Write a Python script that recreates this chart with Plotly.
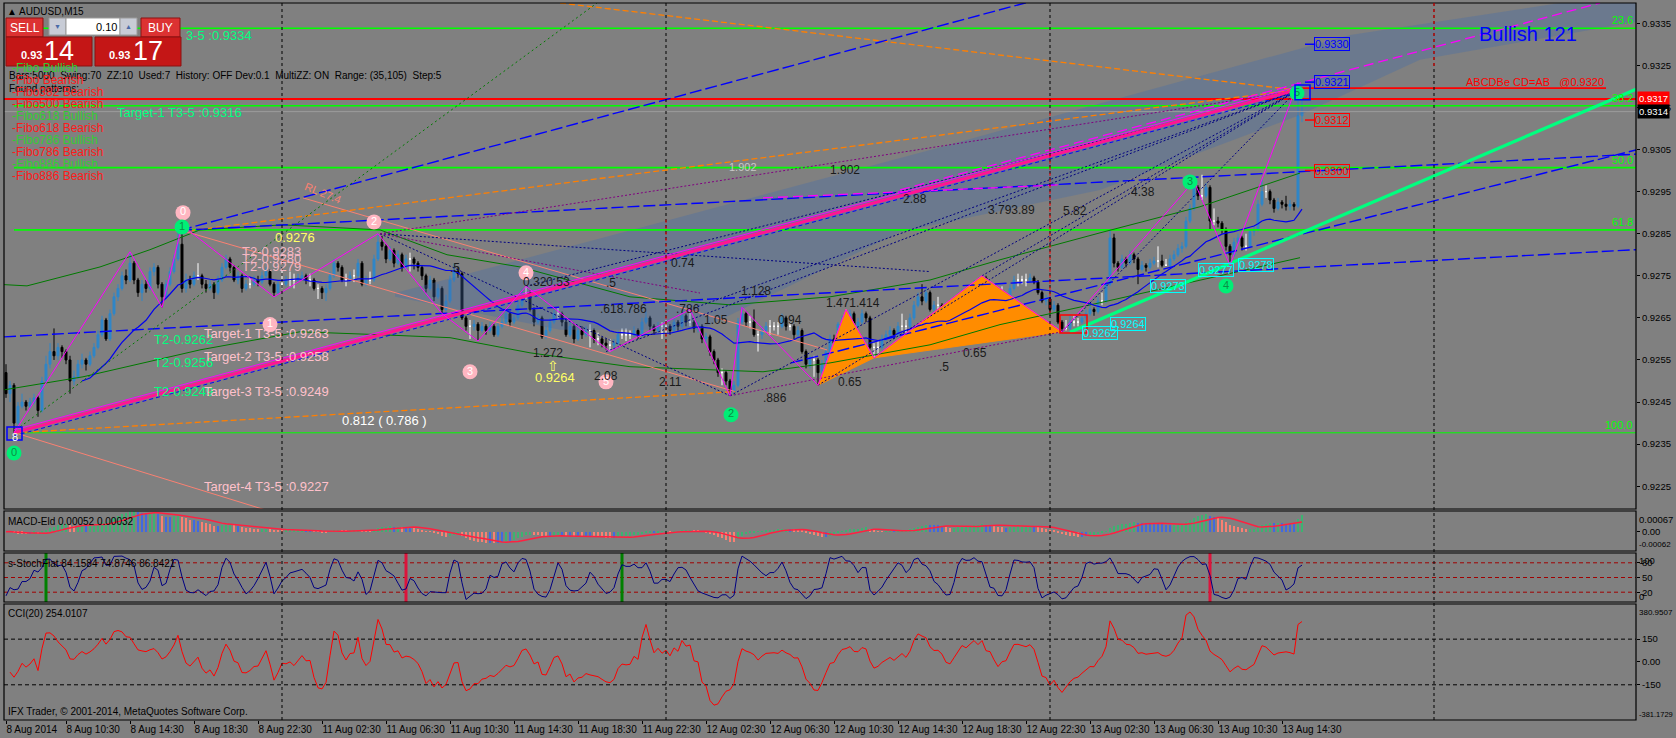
import numpy as np
import pandas as pd
import plotly.graph_objects as go

# AUDUSD M15, 8 Aug 2014 06:45 .. 13 Aug 2014 15:45, one value per bar.
# prices are given in pips above BASE
BASE = 0.92

first_open = 52
closes = [
    47, 49, 40, 44, 45, 44, 45, 46, 43, 50,
    54, 57, 56, 58, 57, 55, 50, 51, 54, 55,
    54, 56, 58, 61, 64.5, 60, 66, 70, 72, 75,
    74, 78, 74, 71, 73, 72, 76, 77, 73, 70,
    73, 76, 79, 82.5, 72, 74, 73, 75, 75, 73,
    72, 73, 71, 74, 77, 79, 77, 74, 75, 72,
    73, 73, 74, 73.5, 75, 76, 73, 71, 73, 73,
    74, 74, 74, 74.5, 75, 74, 74, 72, 72, 71,
    72, 75, 78, 77, 74, 74, 75, 75, 78, 73,
    74, 74, 79, 83, 82, 79, 81, 78, 80, 77,
    79, 79, 78, 77, 75, 72, 74, 70, 72, 67,
    69, 74, 76, 75.5, 65, 63, 63, 63.5, 62, 63,
    62, 63, 61, 63, 64, 66, 64, 65, 68, 71,
    71, 67, 64, 65, 60.5, 62, 64, 66, 66, 64,
    61, 63, 60, 62, 61, 62, 62, 60, 60, 59,
    58.5, 58.5, 59, 61, 61, 61, 61, 62, 61, 64,
    65, 63, 62, 63, 63, 63, 62, 64, 63, 65.5,
    64, 64, 62.5, 63, 60, 60.5, 57, 55, 52, 52,
    50, 47.5, 49, 64, 66, 64, 64, 61, 61, 62,
    63, 63, 63, 63, 65, 63, 63, 61, 62, 57,
    54, 55, 55, 52, 54, 57, 60, 59, 63.5, 64,
    64, 66, 63, 64, 66, 65, 58, 58, 58, 60,
    61, 62, 61, 63, 63, 63, 65, 68, 70, 69,
    71, 67, 68, 68, 67, 63, 64, 67, 69, 71,
    70, 72, 73, 72, 74.5, 70, 72, 69, 68, 68,
    70, 72, 74, 74, 74, 74, 74.5, 73.5, 71, 69,
    69.5, 67, 68, 64, 62.5, 62.5, 64, 64, 64, 65,
    66, 67, 66.5, 69, 69, 73, 84, 78, 77, 79,
    78, 80, 79, 76.5, 77.5, 77, 78, 78.5, 78.5, 77.5,
    77.5, 79, 80, 81.5, 82, 88, 91, 96, 94, 94,
    96, 88, 88, 87.5, 86, 82, 80, 83, 84, 82,
    82, 85.5, 86, 92, 95, 95, 93, 91, 92.5, 92,
    91.5, 92, 91.5, 113, 114,
]
highs = [
    54, 50, 49.5, 45, 47, 45.5, 46, 47, 46.5, 51,
    56, 59, 62.5, 59, 58.5, 57.5, 56, 52.5, 55, 56.5,
    55.5, 57, 59, 62, 65.5, 65, 67, 71, 73, 76,
    76.5, 80.7, 78.5, 74.5, 74, 74, 77, 78, 77.5, 73.5,
    74, 77, 80, 86, 87, 75.5, 75, 76, 78, 75.5,
    74, 74, 73.5, 75, 78, 80, 79.5, 77.5, 76, 75.5,
    74, 74.5, 75, 75, 76, 77, 76.5, 73.5, 74, 76.5,
    75, 76, 75.5, 75.5, 76, 75.5, 75.5, 74.5, 73, 72.5,
    73, 76, 79, 78.5, 77.5, 75.5, 76, 76.5, 79, 78.5,
    75, 76, 80, 85, 84.5, 82.5, 82, 81.5, 81, 80.5,
    80, 80.5, 79.5, 78.5, 77.5, 75.5, 75, 74.5, 73, 72.5,
    70.5, 75, 78, 77, 76, 65.5, 64.5, 64.5, 64, 64,
    63.5, 64, 63.5, 64, 65, 67, 66.5, 66, 69, 72,
    72.5, 71.5, 67.5, 66, 65.5, 63, 65, 67, 67.5, 66.5,
    64.5, 64, 63.5, 63, 63, 63, 63.5, 62.5, 61.5, 60.5,
    60, 60, 60, 62, 62.5, 62.5, 62, 63, 62.5, 65,
    66.5, 65.5, 63.5, 64, 64, 64.5, 63.5, 65, 64.5, 67,
    66, 67, 64.5, 64, 63.5, 61.5, 61, 57.5, 55.5, 53,
    52.5, 50.5, 50, 65, 67.5, 66.5, 65.5, 67, 62, 63,
    64, 64.5, 64, 64, 66, 65.5, 64, 63.5, 63, 62.5,
    57.5, 56, 56, 55.5, 55, 58, 61, 61, 64, 65.5,
    67, 67, 66.5, 65, 67, 66.5, 65.5, 59, 59.5, 61,
    62, 63, 62.5, 64, 66, 64.5, 66, 69, 71, 73,
    72, 71.5, 69, 70, 68.5, 67.5, 65, 68, 70, 72,
    71.5, 73, 74, 73.5, 75, 75, 73, 72.5, 70, 72.5,
    71, 73, 75, 75.5, 75, 75.5, 75.5, 75, 74, 71.5,
    70.5, 70, 69, 68.5, 64.5, 64.5, 65.5, 65.5, 65, 66,
    67, 68, 67.5, 70, 71, 74, 86, 85, 78.5, 80,
    79.5, 81, 80.5, 79.5, 78.5, 78, 79, 79.5, 82, 80,
    79, 80, 81, 82.5, 83, 89, 92, 97.5, 96.5, 99,
    97, 96.5, 91, 89, 88, 86.5, 82.5, 84, 85, 84.5,
    85, 86, 87, 93, 97.8, 96.5, 95.5, 93.5, 93.5, 93,
    94, 93, 92.5, 121, 119,
]
lows = [
    46, 45, 37.7, 39.5, 43.5, 43, 43.5, 44.5, 41.5, 42.5,
    49.5, 53, 55, 55, 55.5, 54, 47, 49, 50.5, 53,
    52.5, 53.5, 55.5, 57.5, 60.5, 59.5, 59.5, 65.5, 69, 71.5,
    73, 73.5, 73, 70, 69, 71, 71.5, 75, 72, 67.5,
    69.5, 72.5, 75.5, 78.5, 71, 71, 72, 72.5, 74, 72,
    71, 71.5, 69.5, 70.5, 73.5, 76.5, 76, 73.5, 73, 71,
    71.5, 72, 72.5, 72.5, 73, 74.5, 72.5, 70, 70.5, 72,
    72.5, 72.5, 72, 73.5, 74, 73, 72.5, 71.5, 69.5, 69.5,
    69, 71.5, 74.5, 76, 73.5, 72.5, 73.5, 73.5, 74.5, 72.5,
    72.5, 73, 73.5, 78.5, 81, 78, 78.5, 77, 77.5, 76,
    76.5, 76, 76.5, 76, 74, 71, 71.5, 69, 69.5, 66,
    66.5, 68.5, 73.5, 74.5, 64.5, 62, 60, 62, 59.5, 61.5,
    61, 61.5, 60.5, 60.5, 62.5, 63.5, 63, 63.5, 64.5, 67.5,
    69.5, 66.5, 63, 63.5, 60, 60, 61.5, 63.5, 64.5, 63,
    60.5, 60.5, 59, 59.5, 60, 60.5, 58, 59, 58.5, 58,
    57.5, 57, 57.5, 58.5, 60, 59.5, 60, 60.5, 60, 60.5,
    63.5, 62, 61, 61.5, 60, 61, 61, 61.5, 62, 62.5,
    63, 63, 61.5, 61.5, 59, 59, 56, 54, 51, 49,
    49, 46.5, 47, 48.5, 63, 63, 62.5, 60.5, 57, 60,
    61.5, 61, 62, 61, 62.5, 62, 62, 60, 60.5, 56.5,
    53, 53, 51, 49, 51, 53.5, 56.5, 58, 58.5, 62.5,
    62.5, 63.5, 62, 62.5, 63.5, 64, 57.5, 55.5, 56.5, 57.5,
    59.5, 60.5, 60, 60.5, 62, 61.5, 62.5, 64.5, 67.5, 68,
    68.5, 66.5, 66, 66.5, 65.5, 62, 62.5, 63.5, 66.5, 68.5,
    69, 69.5, 71.5, 71, 71.5, 69.5, 69.5, 68, 67, 67.5,
    67.5, 69.5, 71.5, 72.5, 73, 72.5, 73.5, 73, 70.5, 68.5,
    68, 65.5, 66.5, 63.5, 61.7, 62, 62, 63, 63, 63.5,
    64.5, 65.5, 65.5, 66, 68, 68.5, 72.5, 77, 76, 76.5,
    77, 77.5, 78, 73, 76, 76, 76.5, 77.5, 77, 77,
    77.5, 77, 78.5, 79.5, 80.5, 81.5, 87.5, 90.5, 93, 93,
    93.5, 86, 87, 86.5, 85, 81, 77.5, 79.5, 82.5, 81,
    81, 81.5, 84.5, 85.5, 91.5, 93.5, 92, 90, 90.5, 91,
    90.5, 90.5, 90.5, 91, 111.5,
]
assert len(closes) == len(highs) == len(lows) == 325

tick_bars = [0, 15, 31, 47, 63, 79, 95, 111, 127, 143, 159,
             175, 191, 207, 223, 239, 255, 271, 287, 303, 319]
tick_text = ['8 Aug 2014', '8 Aug 10:30', '8 Aug 14:30', '8 Aug 18:30', '8 Aug 22:30',
             '11 Aug 02:30', '11 Aug 06:30', '11 Aug 10:30', '11 Aug 14:30', '11 Aug 18:30',
             '11 Aug 22:30', '12 Aug 02:30', '12 Aug 06:30', '12 Aug 10:30', '12 Aug 14:30',
             '12 Aug 18:30', '12 Aug 22:30', '13 Aug 02:30', '13 Aug 06:30', '13 Aug 10:30',
             '13 Aug 14:30']
day_sep_bars = [69, 165, 261, 357]
price_ticks = [0.9225, 0.9235, 0.9245, 0.9255, 0.9265, 0.9275,
               0.9285, 0.9295, 0.9305, 0.9315, 0.9325, 0.9335]

fib_levels = [0.93338, 0.93154, 0.93007, 0.92859, 0.92377]
fib_labels = ['23.6', '38.2', '50.0', '61.8', '100.0']
bid, ask = 114, 117

# objects on the chart: bar index, pips
band_bars = [97.25, 173.5, 231, 336, 388.5, 407.5, 407.5, 353.5, 323.5, 273.5, 223.5, 173.5, 138.5, 97.25]
band_pips = [70.9, 90.2, 104.9, 132.2, 139.8, 139.8, 135.3, 126.3, 113.2, 95.4, 85.4, 62.2, 62.2, 70.0]
tri1 = ([203, 210, 217, 203], [49, 67, 55.5, 49])
tri2 = ([217, 244, 264, 217], [55.5, 75, 61.7, 55.5])

bb_up = ([-0.5, 5.25, 23.5, 36, 48.5, 69.25, 93.5, 110.25, 128.5, 156, 181, 206, 231, 248.5, 273.5, 298.5, 323.5],
         [72.9, 72.6, 77.1, 81.2, 85.9, 87.1, 85.9, 80.0, 77.1, 70.0, 68.1, 70.0, 74.0, 78.8, 85.2, 91.4, 99.4])
bb_dn = ([-0.5, 19.25, 48.5, 73.5, 93.5, 111, 131, 156, 189.25, 206, 231, 248.5, 273.5, 298.5, 323.5],
         [47.9, 51.0, 57.4, 61.7, 61.0, 60.3, 56.7, 53.4, 52.2, 54.3, 58.6, 63.4, 68.6, 74.0, 79.3])

pink_trend = ([2, 322], [37.7, 119])
green_trend = ([266, 407.5], [61.6, 119.3])
blue_dashed = [([43.5, 257.5], [85.8, 140.5]), ([43.5, 407.5], [85.8, 103.9]),
               ([196.25, 407.5], [54.3, 104.9]), ([-0.5, 407.5], [60.5, 81.2])]
orange_dashed = [([138.5, 322.75], [139.8, 119.1]), ([43.5, 321.75], [85.4, 119.1]),
                 ([2.25, 182.25], [37.7, 47.5])]
salmon_lines = [([74.25, 205.25], [93.5, 57.4]), ([45.25, 182.25], [85.4, 47.5]),
                ([2.25, 66.5], [37.7, 18.9])]
green_dotted = ([3.5, 147.75], [39.1, 139.8])
magenta_dashed = [([223.5, 398.5], [95.4, 139.8]), ([189.25, 263.5], [93.5, 96.6])]
fan_apex = (322.75, 119)
fan_from = [(130, 72.5), (171, 67), (181, 46.5), (203, 49), (244, 75), (264, 61.7), (150, 57)]
navy_dotted = [([93.5, 181], [85, 46.5]), ([93.5, 231], [85, 76])]
purple_dotted = [([93.5, 322.75], [85, 119]), ([93.5, 173.5], [85, 70.9]), ([181, 264], [46.5, 61.7])]
zz_bars = [2, 31, 39, 44, 67, 93, 109, 118, 130, 151, 171, 181, 184, 203, 210, 217, 244, 264, 297, 306, 323]
zz_pips = [37.7, 80.7, 67.5, 87, 70, 85, 66, 59.5, 72.5, 57, 67, 46.5, 67.5, 49, 67, 55.5, 75, 61.7, 97.5, 77.5, 121]
abcd_line = ([321.75, 400], [119.6, 119.6])

pink_pts = ([44.25, 66, 92, 116, 130, 150], [90.0, 63.4, 87.8, 52.2, 75.7, 49.8], ['0', '1', '2', '3', '4', '5'])
green_pts = ([2, 44, 181.25, 296, 305, 322.75], [32.9, 86.6, 42.0, 97.3, 72.6, 118.4], ['0', '1', '2', '3', '4', '5'])

cyan_labels = [(269, 61.4, '0.9262'), (276, 63.6, '0.9264'), (286, 72.6, '0.9273'),
               (298, 76.4, '0.9277'), (308, 77.6, '0.9278')]
right_labels = [(130, '0.9330', '#0000ff'), (121, '0.9321', '#0000ff'),
                (112, '0.9312', '#ff0000'), (100, '0.9300', '#ff0000')]
ratio_labels = [(209.75, 100.2, '1.902'), (227.25, 93.3, '2.88'), (169.25, 78.1, '0.74'),
                (187.5, 71.4, '1.128'), (211.75, 68.6, '1.471.414'), (154.25, 67.2, '.618.786'),
                (170.5, 67.2, '.786'), (177.5, 64.5, '1.05'), (196, 64.5, '0.94'),
                (135.5, 56.7, '1.272'), (150, 51.3, '2.08'), (166, 49.8, '2.11'),
                (192.25, 46.0, '.886'), (211, 49.8, '0.65'), (242.25, 56.7, '0.65'),
                (234.5, 53.4, '.5'), (135, 73.5, '0.320.53'), (151.25, 73.3, '.5'),
                (112.25, 76.9, '.5'), (251.25, 90.6, '3.793.89'), (267.25, 90.4, '5.82'),
                (284.25, 94.9, '4.38')]
target_labels = [(44.5, 132.0, '3-5 :0.9334', '#00ff7f'), (27.25, 113.7, 'Target-1 T3-5 :0.9316', '#00ff7f'),
                 (66.75, 84.0, '0.9276', '#ffff66'), (58.5, 80.7, 'T2-0.9283', '#f4b6c2'),
                 (58.5, 79.0, 'T2-0.9280', '#f4b6c2'), (58.5, 77.1, 'T2-0.9279', '#f4b6c2'),
                 (36.5, 59.8, 'T2-0.9262', '#00ff7f'), (36.5, 54.3, 'T2-0.9256', '#00ff7f'),
                 (36.5, 47.4, 'T2-0.9249', '#00ff7f'), (49, 61.4, 'Target-1 T3-5 :0.9263', '#ffc0cb'),
                 (49, 55.8, 'Target-2 T3-5 :0.9258', '#ffc0cb'), (49, 47.4, 'Target-3 T3-5 :0.9249', '#ffc0cb'),
                 (49, 24.9, 'Target-4 T3-5 :0.9227', '#ffc0cb'), (131.75, 50.8, '0.9264', '#ffff66'),
                 (83.5, 40.6, '0.812 ( 0.786 )', '#ffffff')]
fibo_list = [('-Fibo Bullish', '#33cc33'), ('-Fibo Bearish', '#ff1a1a'), ('-Fibo382 Bearish', '#ff1a1a'),
             ('-Fibo500 Bearish', '#ff1a1a'), ('-Fibo618 Bullish', '#33cc33'), ('-Fibo618 Bearish', '#ff1a1a'),
             ('-Fibo786 Bullish', '#33cc33'), ('-Fibo786 Bearish', '#ff1a1a'), ('-Fibo886 Bullish', '#33cc33'),
             ('-Fibo886 Bearish', '#ff1a1a')]
stoch_marks = [(10, '#008000'), (100, '#dc143c'), (154, '#008000'), (301, '#dc143c')]


def P(v):
    return BASE + np.asarray(v, dtype=float) / 10000


opens = [first_open] + closes[:-1]
o, hi, lo, c = P(opens), P(highs), P(lows), P(closes)
bars = np.arange(len(closes))
doji = np.isclose(o, c)

# indicators from the candles
cl = pd.Series(c)
ema12 = cl.ewm(span=12, adjust=False).mean()
ema26 = cl.ewm(span=26, adjust=False).mean()
macd = ema12 - ema26
signal = macd.rolling(9, min_periods=1).mean()
ema13 = cl.ewm(span=13, adjust=False).mean()
m_up = (macd.diff() > 0).values
e_up = (ema13.diff() > 0).values
macd_col = np.where(m_up & e_up, '#3cb371', np.where(~m_up & ~e_up, '#fa8072', '#4169e1'))

hh = pd.Series(hi).rolling(6, min_periods=1).max()
ll = pd.Series(lo).rolling(6, min_periods=1).min()
stoch = 100 * (cl - ll).rolling(2, min_periods=1).sum() / (hh - ll).rolling(2, min_periods=1).sum()

tp = (pd.Series(hi) + pd.Series(lo) + cl) / 3
tp_ma = tp.rolling(20, min_periods=2).mean()
tp_md = tp.rolling(20, min_periods=2).apply(lambda x: np.mean(np.abs(x - x.mean())), raw=True)
cci = (tp - tp_ma) / (0.015 * tp_md)
sma20 = cl.rolling(20).mean()

W, H = 1676, 738
ML, MR, MT, MB = 4, 40, 3, 18


def px(x):
    return (x - ML) / (W - ML - MR)


def py(y):
    return (H - MB - y) / (H - MT - MB)


fig = go.Figure()


def line(b, p, color, width=1.0, dash=None):
    fig.add_trace(go.Scatter(x=b, y=P(p), mode='lines', hoverinfo='skip', showlegend=False,
                             line=dict(color=color, width=width, dash=dash)))


# background objects
fig.add_trace(go.Scatter(x=band_bars, y=P(band_pips), fill='toself', mode='none',
                         fillcolor='rgba(70,110,170,0.35)', hoverinfo='skip', showlegend=False))
for tb, tpp in (tri1, tri2):
    fig.add_trace(go.Scatter(x=tb, y=P(tpp), fill='toself', mode='lines', line=dict(color='#ff8c00', width=1),
                             fillcolor='#ff8c00', hoverinfo='skip', showlegend=False))

# candles
m = ~doji
fig.add_trace(go.Candlestick(x=bars[m], open=o[m], high=hi[m], low=lo[m], close=c[m],
                             increasing=dict(line=dict(color='#2f86c8', width=1), fillcolor='#2f86c8'),
                             decreasing=dict(line=dict(color='#000000', width=1), fillcolor='#000000'),
                             hoverinfo='skip', showlegend=False))
fig.add_trace(go.Candlestick(x=bars[doji], open=o[doji], high=hi[doji], low=lo[doji], close=c[doji],
                             increasing=dict(line=dict(color='#ffffff', width=1), fillcolor='#ffffff'),
                             decreasing=dict(line=dict(color='#ffffff', width=1), fillcolor='#ffffff'),
                             hoverinfo='skip', showlegend=False))

# horizontal levels
for lv in fib_levels:
    fig.add_trace(go.Scatter(x=[2, 407.5], y=[lv, lv], mode='lines', hoverinfo='skip', showlegend=False,
                             line=dict(color='#00ff00', width=1.6 if lv != fib_levels[-1] else 1)))
line([-0.5, 407.5], [bid, bid], '#9c9c9c', 1)
line([-0.5, 407.5], [ask, ask], '#ff0000', 1.8)
line(*abcd_line, '#ff0000', 1.8)

# indicator curves on price
line(*bb_up, '#007a00', 1)
line(*bb_dn, '#007a00', 1)
fig.add_trace(go.Scatter(x=bars, y=sma20, mode='lines', hoverinfo='skip', showlegend=False,
                         line=dict(color='#0000ee', width=1.2)))

# drawn lines
for b, p in salmon_lines:
    line(b, p, '#fa8072', 1)
for b, p in orange_dashed:
    line(b, p, '#ff7f00', 1.3, '6px,3px')
for b, p in blue_dashed:
    line(b, p, '#0000ff', 1.4, '12px,4px')
line(*green_dotted, '#007a00', 1, '2px,3px')
for b, p in navy_dotted:
    line(b, p, '#000080', 1, '2px,2px')
for b, p in purple_dotted:
    line(b, p, '#800080', 1, '2px,2px')
for fb, fp in fan_from:
    line([fb, fan_apex[0]], [fp, fan_apex[1]], '#000080', 1, '2px,2px')
for b, p in magenta_dashed:
    line(b, p, '#ff00ff', 1.3, '10px,5px')
line(pink_trend[0], [v - 0.7 for v in pink_trend[1]], '#0000ff', 1, '4px,3px')
line(*pink_trend, '#ff1493', 3.2)
line(pink_trend[0], [v + 0.7 for v in pink_trend[1]], '#ff00ff', 1)
line(*green_trend, '#00ff7f', 3.2)
line(zz_bars, zz_pips, '#ff00ff', 1)

# right-hand price labels with stubs
for p, t, col in right_labels:
    line([324.75, 327], [p, p], col, 1.5)

# numbered circles
for pts, fill, tcol in ((pink_pts, '#ffb6c1', '#ffffff'), (green_pts, '#00ee76', '#0a8f45')):
    fig.add_trace(go.Scatter(x=pts[0], y=P(pts[1]), mode='markers+text', text=pts[2],
                             textposition='middle center', textfont=dict(size=11, color=tcol),
                             marker=dict(size=15, color=fill), hoverinfo='skip', showlegend=False))

# ---- indicator panels
fig.add_trace(go.Bar(x=bars, y=macd, marker=dict(color=macd_col, line=dict(width=0)), width=0.3,
                     yaxis='y2', hoverinfo='skip', showlegend=False))
fig.add_trace(go.Scatter(x=bars, y=signal, yaxis='y2', mode='lines', line=dict(color='#ff2040', width=1.5),
                         hoverinfo='skip', showlegend=False))
for lvl in (20, 50, 80):
    fig.add_trace(go.Scatter(x=[-0.5, 407.5], y=[lvl, lvl], yaxis='y3', mode='lines', hoverinfo='skip',
                             showlegend=False, line=dict(color='#a00000', width=1, dash='4px,3px')))
for b, col in stoch_marks:
    fig.add_trace(go.Scatter(x=[b, b], y=[0, 100], yaxis='y3', mode='lines', hoverinfo='skip',
                             showlegend=False, line=dict(color=col, width=3)))
fig.add_trace(go.Scatter(x=bars, y=stoch, yaxis='y3', mode='lines', line=dict(color='#000080', width=1),
                         hoverinfo='skip', showlegend=False))
for lvl in (150, -150):
    fig.add_trace(go.Scatter(x=[-0.5, 407.5], y=[lvl, lvl], yaxis='y4', mode='lines', hoverinfo='skip',
                             showlegend=False, line=dict(color='#000000', width=1, dash='4px,3px')))
fig.add_trace(go.Scatter(x=bars, y=cci, yaxis='y4', mode='lines', line=dict(color='#ff0000', width=1),
                         hoverinfo='skip', showlegend=False))

# ---- layout
panels = {'main': (3, 509), 'macd': (511, 551), 'stoch': (553, 602), 'cci': (604, 720)}
dom = {k: [py(b), py(t)] for k, (t, b) in panels.items()}
axis_common = dict(side='right', showgrid=False, zeroline=False, ticks='outside', ticklen=3,
                   tickcolor='black', tickfont=dict(size=9.5, color='black'), anchor='x',
                   fixedrange=True, showline=False, ticklabeloverflow='allow')
fig.update_layout(
    width=W, height=H, margin=dict(l=ML, r=MR, t=MT, b=MB, autoexpand=False),
    paper_bgcolor='#808080', plot_bgcolor='#808080',
    font=dict(family='Liberation Sans', size=10, color='black'),
    showlegend=False, bargap=0,
    xaxis=dict(range=[-0.5, 407.5], showgrid=False, zeroline=False, rangeslider=dict(visible=False),
               tickvals=tick_bars, ticktext=tick_text, ticks='outside', ticklen=3, tickcolor='black',
               tickangle=0, ticklabelposition='outside right', ticklabeloverflow='allow',
               tickfont=dict(size=10, color='black'), anchor='y4', fixedrange=True),
    yaxis=dict(domain=dom['main'], range=[0.92196, 0.93398], tickvals=price_ticks, tickformat='.4f',
               **axis_common),
    yaxis2=dict(domain=dom['macd'], range=[-0.00062, 0.00067], tickvals=[0], ticktext=['0.00'], **axis_common),
    yaxis3=dict(domain=dom['stoch'], range=[0, 100], tickvals=[20, 50, 80], ticktext=['20', '50', '80'],
                **axis_common),
    yaxis4=dict(domain=dom['cci'], range=[-381.1729, 380.9507], tickvals=[-150, 0, 150],
                ticktext=['-150', '0.00', '150'], **axis_common),
)

shapes = []
for t, b in panels.values():
    shapes.append(dict(type='rect', xref='paper', yref='paper', x0=0, x1=1, y0=py(b), y1=py(t),
                       line=dict(color='black', width=1.2)))
for b in day_sep_bars:
    shapes.append(dict(type='line', xref='x', yref='paper', x0=b, x1=b, y0=0, y1=1,
                       line=dict(color='black', width=1, dash='3px,3px')))
for b, p0, p1 in ((165, 88.3, 48.6), (261, 113.7, 66.2), (357, 139.8, 124.6)):
    shapes.append(dict(type='line', xref='x', yref='y', x0=b, x1=b, y0=float(P(p0)), y1=float(P(p1)),
                       line=dict(color='#ff0000', width=1, dash='3px,3px')))
for b0, b1, p0, p1, col in ((0.25, 4, 36.0, 39.1, '#0000ff'), (322.25, 326, 116.8, 120.3, '#0000ff'),
                            (263.5, 270.25, 61.4, 65.7, '#ff0000')):
    shapes.append(dict(type='rect', xref='x', yref='y', x0=b0, x1=b1, y0=float(P(p0)), y1=float(P(p1)),
                       line=dict(color=col, width=1.5)))

# one-click trading panel
for x0, x1, y0, y1, fill, edge in ((6, 43, 18, 37, '#dc3232', '#8b1010'), (49, 66, 18, 35, '#c8ccd6', '#9a9a9a'),
                                   (66, 120, 18, 35, '#ffffff', '#9a9a9a'), (120, 137, 18, 35, '#c8ccd6', '#9a9a9a'),
                                   (141, 180, 18, 37, '#dc3232', '#8b1010'), (6, 92, 37, 66, '#c41616', '#8b1010'),
                                   (95, 181, 37, 66, '#c41616', '#8b1010')):
    shapes.append(dict(type='rect', xref='paper', yref='paper', x0=px(x0), x1=px(x1), y0=py(y1), y1=py(y0),
                       fillcolor=fill, line=dict(color=edge, width=1)))
fig.update_layout(shapes=shapes)


def screen_text(x, y, text, color='black', size=10, anchor='left', **kw):
    fig.add_annotation(xref='paper', yref='paper', x=px(x), y=py(y), text=text, showarrow=False,
                       xanchor=anchor, yanchor='middle', font=dict(color=color, size=size), **kw)


def chart_text(b, p, text, color, size=12, anchor='center', **kw):
    fig.add_annotation(xref='x', yref='y', x=b, y=float(P(p)), text=text, showarrow=False,
                       xanchor=anchor, yanchor='middle', font=dict(color=color, size=size), **kw)


screen_text(5, 11, '▲ AUDUSD,M15', size=10)
screen_text(24.5, 28, 'SELL', 'white', 12, 'center')
screen_text(160.5, 28, 'BUY', 'white', 12, 'center')
screen_text(57.5, 26, '▼', '#4a6aa8', 7, 'center')
screen_text(128.5, 26, '▲', '#4a6aa8', 7, 'center')
screen_text(119, 27, '0.10', 'black', 11, 'right')
screen_text(19, 55, '<b>0.93</b>', 'white', 11)
screen_text(42, 51, '14', 'white', 27)
screen_text(107, 55, '<b>0.93</b>', 'white', 11)
screen_text(131, 51, '17', 'white', 27)
screen_text(7, 76, 'Bars:5000  Swing:70  ZZ:10  Used:7  History: OFF Dev:0.1  MultiZZ: ON  Range: (35,105)  Step:5')
screen_text(7, 88, 'Found patterns:')
for i, (t, col) in enumerate(fibo_list):
    screen_text(10, 68 + 12 * i, t, col, 12)
screen_text(6, 521, 'MACD-Eld 0.00052 0.00032')
screen_text(6, 563, 's-StochFlat 84.1584 74.8746 86.8421')
screen_text(6, 613, 'CCI(20) 254.0107')
screen_text(6, 711, 'IFX Trader, © 2001-2014, MetaQuotes Software Corp.')

# inset extreme labels of the indicator scales (long ones a touch smaller so they fit)
for ya, val, txt, shift, fs in (('y2', 0.00067, '0.00067', -8, 9.5), ('y2', -0.00062, '-0.00062', 7, 8),
                                ('y3', 100, '100', -7, 9.5), ('y3', 0, '0', 6, 9.5),
                                ('y4', 380.9507, '380.9507', -8, 8), ('y4', -381.1729, '-381.1729', 6, 7.5)):
    fig.add_annotation(xref='paper', yref=ya, x=1, y=val, text=txt, showarrow=False, xanchor='left',
                       xshift=1, yshift=shift, font=dict(size=fs, color='black'))

# price tags on the axis
for p, txt, bg in ((ask, '0.9317', '#ff0000'), (bid, '0.9314', '#000000')):
    fig.add_annotation(xref='paper', yref='y', x=1, y=float(P(p)), text=txt, showarrow=False, xanchor='left',
                       xshift=1, bgcolor=bg, borderpad=1, font=dict(size=9.5, color='white'))

for lv, t in zip(fib_levels, fib_labels):
    fig.add_annotation(xref='x', yref='y', x=407.25, y=lv, text=t, showarrow=False, xanchor='right',
                       yanchor='bottom', font=dict(size=11, color='#00ff00'))

for b, p, t, col in target_labels:
    chart_text(b, p, t, col, 13, 'left')
chart_text(136.75, 53.6, '⇧', '#ffff66', 14)
chart_text(79.25, 94.7, 'RL 27.4', '#fa8072', 11, textangle=22)
chart_text(184.25, 100.9, '1.902', '#c8c8c8', 11)
for b, p, t in ratio_labels:
    chart_text(b, p, t, '#1a1a1a', 12)
chart_text(400, 121.0, 'ABCDBe CD=AB   @0.9320', '#ff0000', 11, 'right')
chart_text(380.5, 132.5, 'Bullish 121', '#0000ff', 20)
for b, p, t in cyan_labels:
    chart_text(b, p, t, '#00ffff', 11, 'left', bordercolor='#00ffff', borderwidth=1, borderpad=0)
for p, t, col in right_labels:
    chart_text(327, p, t, col, 11, 'left', bordercolor=col, borderwidth=1, borderpad=0)
chart_text(2.25, 36.6, '8', '#ffffff', 11)

# the page's default body margin would shift the chart by 8px
fig.write_html('out.html', config={'displayModeBar': False},
               post_script="document.body.style.margin='0';document.body.style.padding='0';")
